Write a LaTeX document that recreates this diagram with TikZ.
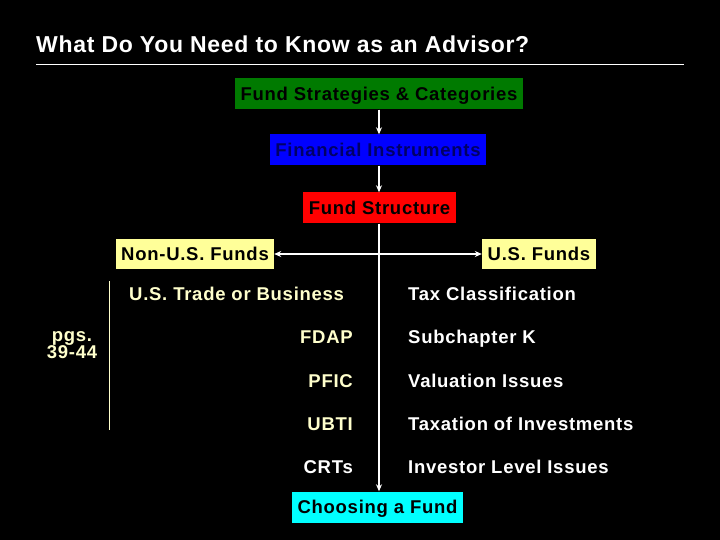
\documentclass[tikz,border=0pt]{standalone}
\usepackage{fontspec}
\setmainfont{Liberation Sans}
\newfontfamily\bodyfont[LetterSpace=4,BoldFont={Liberation Sans Bold}]{Liberation Sans}
\newfontfamily\titlefont[LetterSpace=3]{Liberation Sans Bold}
\usetikzlibrary{arrows.meta}
\definecolor{lyel}{HTML}{FFFF99}
\definecolor{tyel}{HTML}{FFFFCC}
\definecolor{dgreen}{HTML}{007A00}
\definecolor{navy}{HTML}{000066}
\definecolor{cyanbox}{HTML}{00FFFF}
\begin{document}
\begin{tikzpicture}[x=1pt,y=-1pt,
  box/.style={font=\bodyfont\bfseries\fontsize{18.5}{20}\selectfont, inner sep=0pt, minimum height=31pt, text=black, text height=13.2pt, text depth=0pt},
  lbl/.style={font=\bodyfont\bfseries\fontsize{18.5}{20}\selectfont, inner sep=0pt, text height=13.2pt, text depth=0pt},
  arr/.style={draw=white, line width=1.2pt, -{Stealth[length=7pt,width=6pt]}}]
\fill[black] (0,0) rectangle (720,540);
\useasboundingbox (0,0) rectangle (720,540);
\node[anchor=west, text=white, font=\titlefont\fontsize{23}{24}\selectfont, inner sep=0pt, text height=16pt, text depth=0pt] (title) at (36,45) {What Do You Need to Know as an Advisor?};
\draw[white, line width=0.8pt] (36,64) -- (684,64);

\node[box, fill=dgreen, minimum width=288pt] (strat) at (379,94) {Fund Strategies \& Categories};
\node[box, fill=blue, text=navy, minimum width=216pt] (instr) at (378,150) {Financial Instruments};
\node[box, fill=red, minimum width=153pt] (struct) at (379.5,208) {Fund Structure};
\node[box, fill=lyel, minimum width=158pt, minimum height=30pt] (nonus) at (195,254) {Non-U.S. Funds};
\node[box, fill=lyel, minimum width=114pt, minimum height=30pt] (us) at (539,254) {U.S. Funds};
\node[box, fill=cyanbox, minimum width=171pt] (choose) at (377.5,507) {Choosing a Fund};

\draw[arr] (strat.south -| 379,0) -- (instr.north -| 379,0);
\draw[arr] (instr.south -| 379,0) -- (struct.north -| 379,0);
\draw[arr] (struct.south -| 379,0) -- (choose.north -| 379,0);
\draw[draw=white, line width=1.2pt, {Stealth[length=7pt,width=6pt]}-{Stealth[length=7pt,width=6pt]}] (nonus.east) -- (us.west);

\coordinate (ytop) at (109,281);
\coordinate (ybot) at (109,430);
\draw[tyel, line width=1pt] (ytop) -- (ybot);
\node[text=tyel, align=center, inner sep=0pt, font=\bodyfont\bfseries\fontsize{18.5}{17}\selectfont] (pgs) at (72,345) {pgs.\\39-44};

\node[lbl, text=tyel, anchor=west] (tob) at (129,294) {U.S. Trade or Business};
\node[lbl, text=tyel, anchor=east] (fdap) at (353,337) {FDAP};
\node[lbl, text=tyel, anchor=east] (pfic) at (353,381) {PFIC};
\node[lbl, text=tyel, anchor=east] (ubti) at (353,424) {UBTI};
\node[lbl, text=white, anchor=east] (crts) at (353,467) {CRTs};

\node[lbl, text=white, anchor=west] (tax) at (408,294) {Tax Classification};
\node[lbl, text=white, anchor=west] (subk) at (408,337) {Subchapter K};
\node[lbl, text=white, anchor=west] (val) at (408,381) {Valuation Issues};
\node[lbl, text=white, anchor=west] (taxi) at (408,424) {Taxation of Investments};
\node[lbl, text=white, anchor=west] (inv) at (408,467) {Investor Level Issues};
\end{tikzpicture}
\end{document}
